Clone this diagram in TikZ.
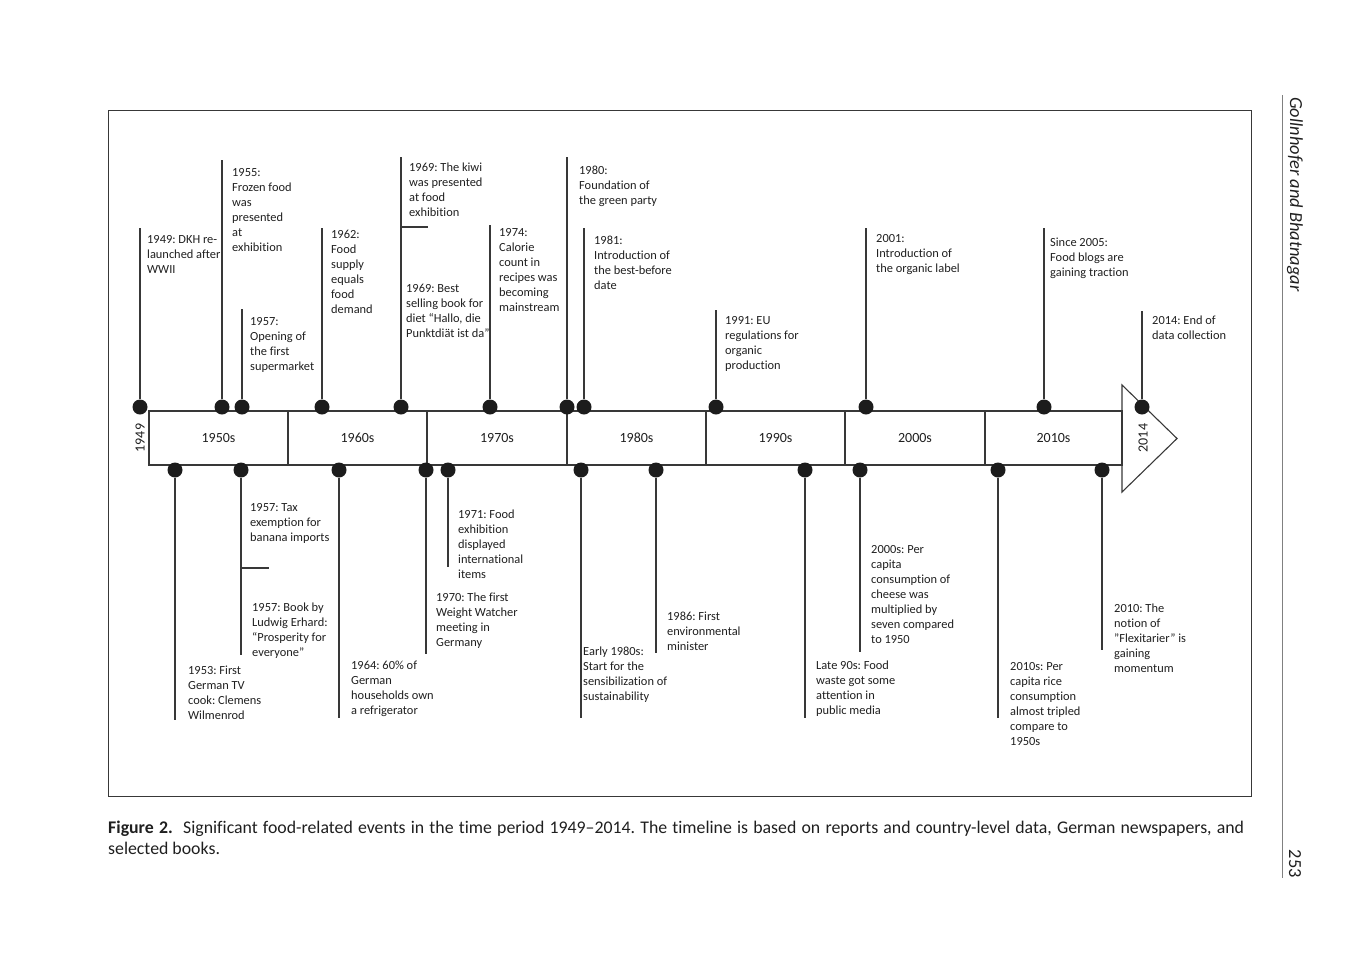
\documentclass[tikz,border=0pt]{standalone}
\usepackage{fontspec}
\setmainfont{Carlito}[Ligatures={NoCommon}]
\definecolor{linegray}{gray}{0.22}
\definecolor{dotblack}{gray}{0.11}
\definecolor{txt}{gray}{0.12}
\begin{document}
\frenchspacing
\begin{tikzpicture}[x=1pt,y=-1pt,
  stem/.style={draw=linegray, line width=1.1pt},
  dot/.style={circle, fill=dotblack, minimum size=15pt, inner sep=0pt},
  % event labels are placed by the baseline of their last line
  lbl/.style={anchor=base west, align=left, inner sep=0pt, text=txt,
    font=\fontsize{12.4}{15}\selectfont},
  decade/.style={draw=linegray, line width=1.1pt, minimum height=54pt,
    inner sep=0pt, text=txt, font=\fontsize{14}{16}\selectfont},
  yearmark/.style={inner sep=0pt, text=txt, rotate=90, font=\fontsize{14}{16}\selectfont}]
\useasboundingbox (0,0) rectangle (1372,964);

% outer frame of the figure
\draw[draw=linegray, line width=1pt] (108,110) rectangle (1251,796);

% running head
\draw[draw=gray, line width=0.8pt] (1282,95) -- (1282,878);
\node[anchor=west, rotate=-90, inner sep=0pt, text=txt,
  font=\fontsize{18.4}{20}\selectfont\itshape] (head) at (1295,97) {Gollnhofer and Bhatnagar};
\node[anchor=east, rotate=-90, inner sep=0pt, text=txt,
  font=\fontsize{18.4}{20}\selectfont] (page) at (1295,878) {253};

% decade band
\node[decade, minimum width=139pt] (c50) at (218.5,438) {1950s};
\node[decade, minimum width=139pt] (c60) at (357.5,438) {1960s};
\node[decade, minimum width=140pt] (c70) at (497,438) {1970s};
\node[decade, minimum width=139pt] (c80) at (636.5,438) {1980s};
\node[decade, minimum width=139pt] (c90) at (775.5,438) {1990s};
\node[decade, minimum width=140pt] (c00) at (915,438) {2000s};
\node[decade, minimum width=137pt] (c10) at (1053.5,438) {2010s};
\draw[stem, line join=miter] (1122,385) -- (1177,438.5) -- (1122,492) -- cycle;
\node[yearmark] (y49) at (140,438) {1949};
\node[yearmark] (y14) at (1143,438) {2014};

% events above the band
\foreach \n/\x/\t in {d49/140/228, d55/222/160, d57/242/309, d62/322/228,
    d69/401/157, d74/490/225, d80/567/157, d81/584/228, d91/716/310,
    d01/866/228, d05/1044/228, d14/1142/311} {
  \coordinate (\n-end) at (\x,\t);
  \node[dot] (\n) at (\x,407) {};
  \draw[stem] (\n) -- (\n-end);
}
\coordinate (d69-tick) at (428,227);
\coordinate (d69-fork) at (401,227);
\draw[stem] (d69-fork) -- (d69-tick);

% events below the band
\foreach \n/\x/\b in {b53/175/720, b57/241/655, b64/339/718, b70/426/654,
    b71/448/567, b80/581/718, b86/656/653, b90/805/718, b00/860/652,
    b10s/998/718, b10/1102/650} {
  \coordinate (\n-end) at (\x,\b);
  \node[dot] (\n) at (\x,470) {};
  \draw[stem] (\n) -- (\n-end);
}
\coordinate (b57-tick) at (269,568);
\coordinate (b57-fork) at (241,568);
\draw[stem] (b57-fork) -- (b57-tick);

% labels above
\node[lbl] (t49) at (147,273) {1949: DKH re-\\launched after\\WWII};
\node[lbl] (t55) at (232,251) {1955:\\Frozen food\\was\\presented\\at\\exhibition};
\node[lbl] (t57) at (250,370) {1957:\\Opening of\\the first\\supermarket};
\node[lbl] (t62) at (331,313) {1962:\\Food\\supply\\equals\\food\\demand};
\node[lbl] (t69a) at (409,216) {1969: The kiwi\\was presented\\at food\\exhibition};
\node[lbl] (t69b) at (406,337) {1969: Best\\selling book for\\diet “Hallo, die\\Punktdiät ist da”};
\node[lbl] (t74) at (499,311) {1974:\\Calorie\\count in\\recipes was\\becoming\\mainstream};
\node[lbl] (t80) at (579,204) {1980:\\Foundation of\\the green party};
\node[lbl] (t81) at (594,289) {1981:\\Introduction of\\the best-before\\date};
\node[lbl] (t91) at (725,369) {1991: EU\\regulations for\\organic\\production};
\node[lbl] (t01) at (876,272) {2001:\\Introduction of\\the organic label};
\node[lbl] (t05) at (1050,276) {Since 2005:\\Food blogs are\\gaining traction};
\node[lbl] (t14) at (1152,339) {2014: End of\\data collection};

% labels below
\node[lbl] (u53) at (188,719) {1953: First\\German TV\\cook: Clemens\\Wilmenrod};
\node[lbl] (u57a) at (250,541) {1957: Tax\\exemption for\\banana imports};
\node[lbl] (u57b) at (252,656) {1957: Book by\\Ludwig Erhard:\\“Prosperity for\\everyone”};
\node[lbl] (u64) at (351,714) {1964: 60\% of\\German\\households own\\a refrigerator};
\node[lbl] (u70) at (436,646) {1970: The first\\Weight Watcher\\meeting in\\Germany};
\node[lbl] (u71) at (458,578) {1971: Food\\exhibition\\displayed\\international\\items};
\node[lbl] (u80) at (583,700) {Early 1980s:\\Start for the\\sensibilization of\\sustainability};
\node[lbl] (u86) at (667,650) {1986: First\\environmental\\minister};
\node[lbl] (u90) at (816,714) {Late 90s: Food\\waste got some\\attention in\\public media};
\node[lbl] (u00) at (871,643) {2000s: Per\\capita\\consumption of\\cheese was\\multiplied by\\seven compared\\to 1950};
\node[lbl] (u10s) at (1010,745) {2010s: Per\\capita rice\\consumption\\almost tripled\\compare to\\1950s};
\node[lbl] (u10) at (1114,672) {2010: The\\notion of\\”Flexitarier” is\\gaining\\momentum};

% caption (a fixed-width block sits on the baseline of its first line)
\node[anchor=base west, inner sep=0pt, text width=1136pt, align=justify, text=txt,
  font=\fontsize{17.8}{21}\selectfont] (cap) at (108,833)
  {\textbf{Figure 2.}\ \ Significant food-related events in the time period 1949–2014. The timeline is based on reports and country-level data, German newspapers, and\linebreak selected books.};
\end{tikzpicture}
\end{document}
